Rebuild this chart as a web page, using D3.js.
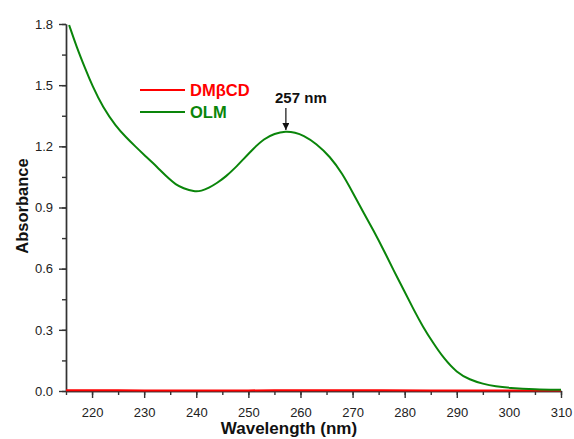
<!DOCTYPE html>
<html>
<head>
<meta charset="utf-8">
<script src="https://cdn.jsdelivr.net/npm/d3@7"></script>
<style>
  body { margin: 0; background: #fff; }
  svg { font-family: "Liberation Sans", Arial, sans-serif; }
  .axis path, .axis line { stroke: #333; stroke-width: 1.4; }
  .axis text { fill: #222; font-size: 13px; }
</style>
</head>
<body>
<div id="chart"></div>
<script>
// OLM absorbance (wavelength nm, absorbance)
const olm_wl = [215.6, 217, 218.8, 220, 222.1, 224.6, 226.5, 228.4, 230, 231.7, 233.3, 234.8, 236, 237.5, 239.6, 241, 242.4, 244, 245.7, 247.5, 248.9, 251, 253, 255, 257.2, 259, 260.5, 263, 265.7, 268, 270.1, 272, 274, 276, 277.8, 280, 281.7, 283.5, 285.5, 287.5, 290, 292.5, 295, 297.5, 300, 305, 310];
const olm_abs = [1.795, 1.69, 1.574, 1.50, 1.39, 1.298, 1.245, 1.197, 1.158, 1.118, 1.077, 1.040, 1.014, 0.994, 0.977, 0.981, 0.996, 1.02, 1.052, 1.095, 1.133, 1.19, 1.237, 1.263, 1.275, 1.268, 1.255, 1.215, 1.149, 1.068, 0.970, 0.88, 0.788, 0.69, 0.595, 0.487, 0.400, 0.315, 0.234, 0.16, 0.09, 0.055, 0.035, 0.022, 0.015, 0.008, 0.006];
// DMbetaCD is flat near zero
const dm_wl = [215, 225, 235, 245, 255, 265, 275, 285, 295, 305, 310];
const dm_abs = [0.004, 0.003, 0.003, 0.003, 0.003, 0.004, 0.003, 0.003, 0.003, 0.003, 0.003];

const x_ticks = [220, 230, 240, 250, 260, 270, 280, 290, 300, 310];
const y_ticks = [0.0, 0.3, 0.6, 0.9, 1.2, 1.5, 1.8];
const series_names = ["DMβCD", "OLM"];
const series_colors = ["#ff0000", "#0a850a"];
const peak_label = "257 nm";

const width = 574, height = 439;
const svg = d3.select("#chart").append("svg")
  .attr("width", width)
  .attr("height", height);

const scale_x = d3.scaleLinear().domain([215, 310]).range([66, 561]);
const scale_y = d3.scaleLinear().domain([0, 1.8]).range([391, 24]);

// minor ticks first so the major ones draw on top
svg.append("g")
  .attr("class", "axis")
  .attr("transform", "translate(0,391)")
  .call(d3.axisBottom(scale_x).tickValues(d3.range(215, 311, 5)).tickSize(4).tickSizeOuter(0).tickFormat(""));
svg.append("g")
  .attr("class", "axis")
  .attr("transform", "translate(66,0)")
  .call(d3.axisLeft(scale_y).tickValues(d3.range(0, 1.81, 0.15)).tickSize(4).tickSizeOuter(0).tickFormat(""));

svg.append("g")
  .attr("class", "axis")
  .attr("transform", "translate(0,391)")
  .call(d3.axisBottom(scale_x).tickValues(x_ticks).tickSize(7).tickSizeOuter(0).tickPadding(10));
svg.append("g")
  .attr("class", "axis")
  .attr("transform", "translate(66,0)")
  .call(d3.axisLeft(scale_y).tickValues(y_ticks).tickSize(7).tickSizeOuter(0).tickPadding(6).tickFormat(d3.format(".1f")));

// basis curve smooths out reading noise in the hand-read points
const line = d3.line()
  .x(d => scale_x(d[0]))
  .y(d => scale_y(d[1]))
  .curve(d3.curveBasis);

svg.append("path")
  .attr("d", line(d3.zip(dm_wl, dm_abs)))
  .attr("fill", "none")
  .attr("stroke", series_colors[0])
  .attr("stroke-width", 2);

svg.append("path")
  .attr("d", line(d3.zip(olm_wl, olm_abs)))
  .attr("fill", "none")
  .attr("stroke", series_colors[1])
  .attr("stroke-width", 2);

// legend
series_names.forEach((name, i) => {
  const y = 90 + i * 22;
  svg.append("line")
    .attr("x1", 140).attr("x2", 185)
    .attr("y1", y).attr("y2", y)
    .attr("stroke", series_colors[i])
    .attr("stroke-width", 2);
  svg.append("text")
    .attr("x", 190).attr("y", y + 6)
    .attr("fill", series_colors[i])
    .attr("font-size", 16.5)
    .attr("font-weight", "bold")
    .text(name);
});

// peak annotation, arrow points at the highest point of the band
const peak_idx = d3.maxIndex(olm_abs.slice(10)) + 10;
const peak_x = scale_x(olm_wl[peak_idx]);
const peak_y = scale_y(olm_abs[peak_idx]);
svg.append("defs").append("marker")
  .attr("id", "arrow")
  .attr("viewBox", "0 0 10 10")
  .attr("refX", 10).attr("refY", 5)
  .attr("markerWidth", 6).attr("markerHeight", 6)
  .attr("orient", "auto")
  .append("path")
  .attr("d", "M0,0 L10,5 L0,10 z")
  .attr("fill", "#111");
svg.append("line")
  .attr("x1", peak_x).attr("x2", peak_x)
  .attr("y1", 108).attr("y2", peak_y - 1)
  .attr("stroke", "#111")
  .attr("stroke-width", 1.2)
  .attr("marker-end", "url(#arrow)");
svg.append("text")
  .attr("x", peak_x + 15).attr("y", 103)
  .attr("text-anchor", "middle")
  .attr("font-size", 15)
  .attr("font-weight", "bold")
  .attr("fill", "#111")
  .text(peak_label);

// axis titles
svg.append("text")
  .attr("x", 289).attr("y", 434)
  .attr("text-anchor", "middle")
  .attr("font-size", 17)
  .attr("font-weight", "bold")
  .attr("fill", "#111")
  .text("Wavelength (nm)");
svg.append("text")
  .attr("transform", "translate(28,206) rotate(-90)")
  .attr("text-anchor", "middle")
  .attr("font-size", 16.5)
  .attr("font-weight", "bold")
  .attr("fill", "#111")
  .text("Absorbance");
</script>
</body>
</html>
